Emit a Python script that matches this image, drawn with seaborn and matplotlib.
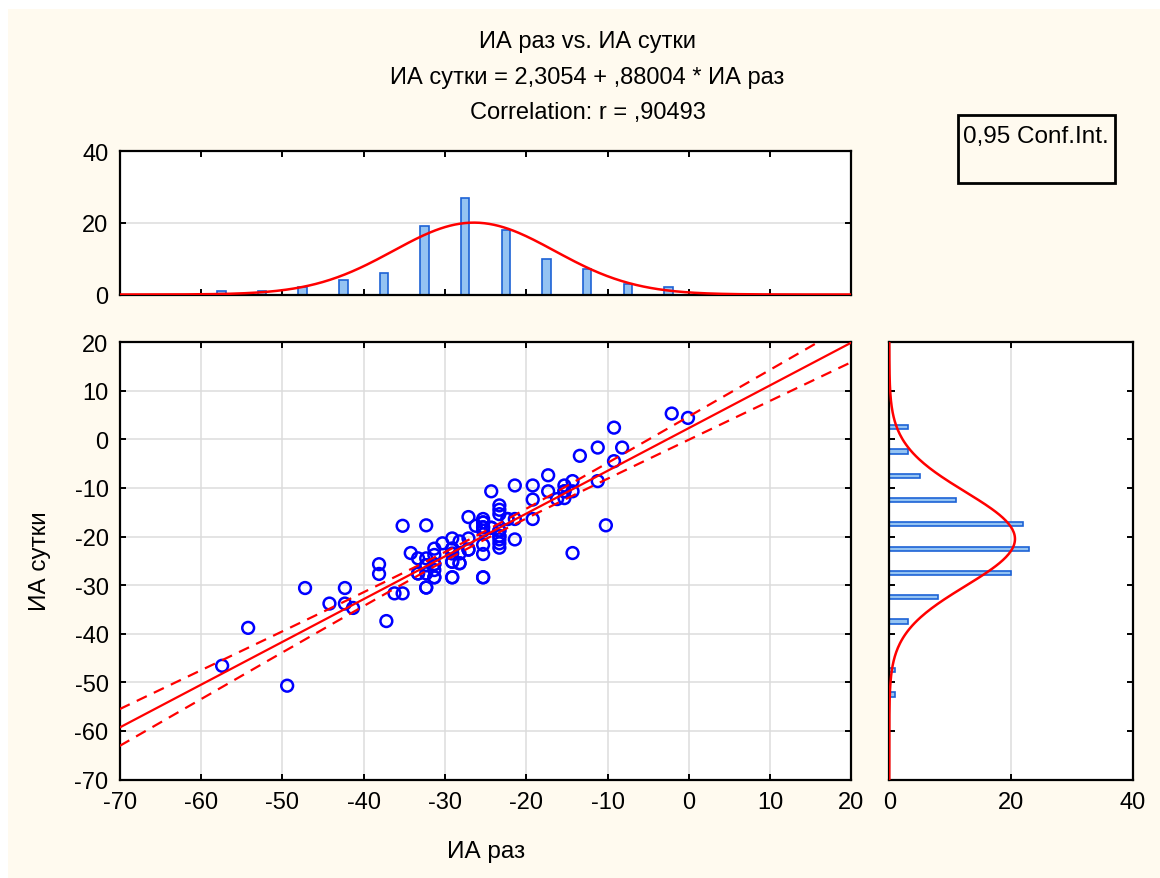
import numpy as np
import seaborn as sns
import matplotlib
matplotlib.use("Agg")
import matplotlib.pyplot as plt
from matplotlib.patches import Rectangle

# points (ИА раз, ИА сутки); repeated values overlap
ia_raz = [
    -57.4, -54.2, -49.4, -47.2, -44.2, -42.3, -42.3, -41.3, -38.1, -38.1,
    -37.2, -36.2, -35.2, -35.2, -34.2, -33.3, -33.3, -32.3, -32.3, -32.3,
    -32.3, -32.3, -31.3, -31.3, -31.3, -31.3, -31.3, -30.3, -29.1, -29.1,
    -29.1, -29.1, -29.1, -28.2, -28.2, -28.2, -27.1, -27.1, -27.1, -26.2,
    -25.3, -25.3, -25.3, -25.3, -25.3, -25.3, -25.3, -24.3, -24.3, -23.3,
    -23.3, -23.3, -23.3, -23.3, -23.3, -23.3, -23.3, -22.3, -21.4, -21.4,
    -21.4, -19.2, -19.2, -19.2, -17.3, -17.3, -16.2, -15.3, -15.3, -15.3,
    -14.3, -14.3, -14.3, -13.4, -11.2, -11.2, -10.2, -9.2, -9.2, -8.2,
    -2.1, -0.1,
    # duplicates hidden under visible circles
    -31.3, -32.3, -33.3, -31.3, -32.3, -29.1, -28.2, -25.3, -29.1, -29.1,
    -27.1, -25.3, -25.3, -23.3, -23.3, -24.3, -22.3, -15.3,
]
ia_sutki = [
    -46.6, -38.8, -50.7, -30.6, -33.8, -30.6, -33.8, -34.7, -25.7, -27.7,
    -37.4, -31.7, -31.7, -17.8, -23.4, -24.5, -27.6, -17.7, -24.5, -25.9,
    -27.6, -30.5, -22.5, -23.8, -25.7, -26.9, -28.4, -21.4, -20.4, -22.5,
    -23.5, -25.2, -28.4, -21.0, -23.5, -25.5, -16.0, -20.4, -22.7, -17.8,
    -16.4, -17.1, -18.1, -18.8, -21.7, -23.6, -28.4, -10.7, -18.2, -13.6,
    -14.5, -15.4, -18.8, -19.9, -20.6, -21.4, -22.3, -16.4, -9.5, -16.4,
    -20.6, -9.5, -12.4, -16.4, -7.4, -10.7, -12.3, -9.5, -10.7, -12.1,
    -8.6, -10.7, -23.4, -3.4, -1.7, -8.6, -17.7, 2.4, -4.5, -1.7,
    5.3, 4.4,
    -25.7, -25.9, -27.6, -28.4, -30.5, -25.2, -25.5, -28.4, -28.4, -22.5,
    -22.7, -17.1, -18.1, -18.8, -19.9, -18.2, -16.4, -10.7,
]

# histogram bars (bin centres and counts)
x_bins = [-62.5, -57.5, -52.5, -47.5, -42.5, -37.5, -32.5, -27.5, -22.5, -17.5, -12.5, -7.5, -2.5]
x_counts = [0, 1, 1, 2, 4, 6, 19, 27, 18, 10, 7, 3, 2]
y_bins = [-57.5, -52.5, -47.5, -42.5, -37.5, -32.5, -27.5, -22.5, -17.5, -12.5, -7.5, -2.5, 2.5]
y_counts = [0, 1, 1, 0, 3, 8, 20, 23, 22, 11, 5, 3, 3]

intercept = 2.3054
slope = 0.88004
r_value = 0.90493

cream = "#fffaef"
bar_face = "#94c3f2"
bar_edge = "#1c62d6"

plt.rcParams["font.family"] = ["Liberation Sans", "DejaVu Sans"]
plt.rcParams["font.size"] = 17
plt.rcParams["axes.unicode_minus"] = False

x = np.array(ia_raz)
y = np.array(ia_sutki)
n = len(x)

fig = plt.figure(figsize=(11.6, 8.79), dpi=100)
fig.patch.set_facecolor("white")
fig.patches.append(Rectangle((8 / 1160, 0), 1, 1 - 10 / 879, transform=fig.transFigure,
                             facecolor=cream, edgecolor="none", zorder=-10))

W, H = 1160, 879
ax = fig.add_axes([119.7 / W, 1 - 780.5 / H, 731.7 / W, 437.4 / H])
ax_top = fig.add_axes([119.7 / W, 1 - 295.5 / H, 731.7 / W, 143.2 / H])
ax_right = fig.add_axes([889.3 / W, 1 - 780.5 / H, 243.7 / W, 437.4 / H])

# main scatter
sns.scatterplot(x=x, y=y, ax=ax, marker="o", s=72, facecolors="none",
                edgecolors="#0000ff", linewidth=1.8, zorder=3)

xs = np.linspace(-70, 20, 300)
fit = intercept + slope * xs
resid = y - (intercept + slope * x)
s_err = np.sqrt(np.sum(resid ** 2) / (n - 2))
sxx = np.sum((x - x.mean()) ** 2)
t_crit = 1.9845
half = t_crit * s_err * np.sqrt(1 / n + (xs - x.mean()) ** 2 / sxx)
ax.plot(xs, fit, color="red", lw=1.6, zorder=4)
ax.plot(xs, fit + half, color="red", lw=1.6, ls=(0, (5, 3.5)), zorder=4)
ax.plot(xs, fit - half, color="red", lw=1.6, ls=(0, (5, 3.5)), zorder=4)

# top histogram
sns.barplot(x=x_bins, y=x_counts, native_scale=True, width=0.21, ax=ax_top,
            color=bar_face, saturation=1, edgecolor=bar_edge, linewidth=1.2,
            errorbar=None, zorder=2)
sd_x = x.std(ddof=1)
ax_top.plot(xs, n * 5 * np.exp(-0.5 * ((xs - x.mean()) / sd_x) ** 2) / (sd_x * np.sqrt(2 * np.pi)),
            color="red", lw=1.8, zorder=3)

# right histogram
sns.barplot(x=y_counts, y=y_bins, orient="y", native_scale=True, width=0.17, ax=ax_right,
            color=bar_face, saturation=1, edgecolor=bar_edge, linewidth=1.2,
            errorbar=None, zorder=2)
ys = np.linspace(-70, 20, 300)
sd_y = y.std(ddof=1)
ax_right.plot(n * 5 * np.exp(-0.5 * ((ys - y.mean()) / sd_y) ** 2) / (sd_y * np.sqrt(2 * np.pi)), ys,
              color="red", lw=1.8, zorder=3)

for a in (ax, ax_top, ax_right):
    a.set_facecolor("white")
    for s in a.spines.values():
        s.set_visible(True)
        s.set_linewidth(1.6)
        s.set_color("black")
    a.tick_params(direction="in", length=4, width=1.4, top=True, right=True,
                  bottom=True, left=True, labelsize=17, pad=8)
    a.set_axisbelow(True)
    a.set_xlabel("")
    a.set_ylabel("")

ax.set_xlim(-70, 20)
ax.set_ylim(-70, 20)
ax.set_xticks(np.arange(-70, 21, 10))
ax.set_yticks(np.arange(-70, 21, 10))
ax.grid(True, color="#dcdcdc", lw=1.1)

ax_top.set_xlim(-70, 20)
ax_top.set_ylim(0, 40)
ax_top.set_xticks(np.arange(-60, 11, 10))
ax_top.set_yticks([0, 20, 40])
ax_top.tick_params(labelbottom=False)
ax_top.grid(False)
ax_top.grid(True, axis="y", color="#dcdcdc", lw=1.1)

ax_right.set_xlim(0, 40)
ax_right.set_ylim(-70, 20)
ax_right.set_xticks([0, 20, 40])
ax_right.set_yticks(np.arange(-60, 11, 10))
ax_right.tick_params(labelleft=False)
ax_right.grid(False)
ax_right.grid(True, axis="x", color="#dcdcdc", lw=1.1)

# titles and axis labels
fig.text(587.5 / W, 1 - 42 / H, "ИА раз vs. ИА сутки", ha="center", va="center", fontsize=17)
fig.text(587.5 / W, 1 - 78 / H, f"ИА сутки = {intercept:.4f}".replace(".", ",")
         + " + " + f"{slope:.5f}".replace("0.", ",") + " * ИА раз",
         ha="center", va="center", fontsize=17)
fig.text(587.5 / W, 1 - 113 / H, "Correlation: r = " + f"{r_value:.5f}".replace("0.", ","),
         ha="center", va="center", fontsize=17)
fig.text(486 / W, 1 - 852 / H, "ИА раз", ha="center", va="center", fontsize=17.5)
fig.text(40 / W, 1 - 561 / H, "ИА сутки", ha="center", va="center", rotation=90, fontsize=17.5)

# legend box
fig.patches.append(Rectangle((958 / W, 1 - 184 / H), 157 / W, 68 / H, transform=fig.transFigure,
                             facecolor=cream, edgecolor="black", lw=2, zorder=5))
fig.text(963 / W, 1 - 137 / H, "0,95 Conf.Int.", ha="left", va="center", fontsize=17.5, zorder=6)

fig.savefig("out.png", dpi=100, facecolor=fig.get_facecolor())
